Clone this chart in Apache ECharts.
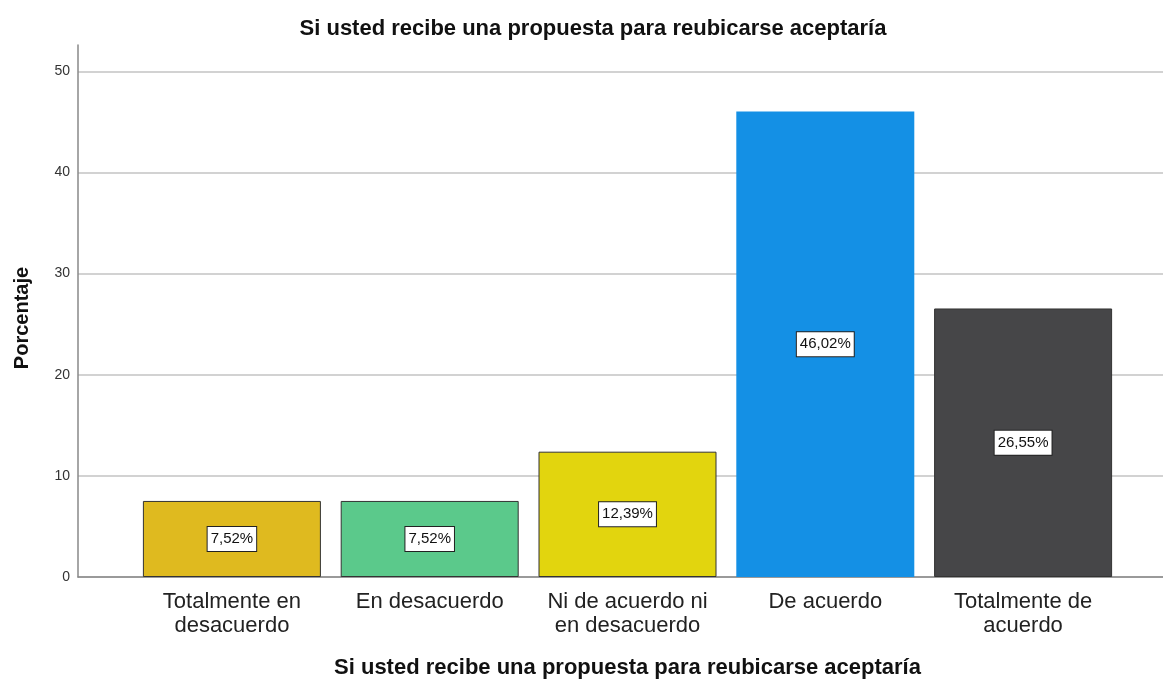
<!DOCTYPE html>
<html>
<head>
<meta charset="utf-8">
<script src="https://cdn.jsdelivr.net/npm/echarts@6/dist/echarts.min.js"></script>
<style>
  html, body { margin: 0; padding: 0; background: #fff; }
  #myChart { width: 1163px; height: 680px; }
</style>
</head>
<body>
<div id="myChart"></div>
<script>
// data
var categories = ['Totalmente en\ndesacuerdo', 'En desacuerdo', 'Ni de acuerdo ni\nen desacuerdo', 'De acuerdo', 'Totalmente de\nacuerdo'];
var values = [7.52, 7.52, 12.39, 46.02, 26.55];
var barColors = ['#DFBA1F', '#5BC98B', '#E2D50E', '#1490E5', '#464648'];
var yTicks = [0, 10, 20, 30, 40, 50];

var titleText = 'Si usted recibe una propuesta para reubicarse aceptaría';
var font = '"Liberation Sans", Arial, sans-serif';

var myChart = echarts.init(document.getElementById('myChart'));

var barData = values.map(function (v, i) {
  var isBlue = i === 3;
  return {
    value: v,
    itemStyle: {
      color: barColors[i],
      borderColor: isBlue ? barColors[i] : '#333',
      borderWidth: isBlue ? 0 : 1
    }
  };
});

// last split line sits at the axis max (no tick there), keep it hidden
var gridColors = yTicks.map(function () { return '#d2d2d2'; }).concat(['rgba(0,0,0,0)']);

var option = {
  animation: false,
  title: {
    text: titleText,
    left: 588,
    textAlign: 'center',
    top: 13,
    textStyle: { fontFamily: font, fontSize: 22, fontWeight: 'bold', color: '#111' }
  },
  grid: [
    { left: 78, right: 0, top: 45, bottom: 103, outerBoundsMode: 'none' },
    { left: 133, right: 41, top: 45, bottom: 103, outerBoundsMode: 'none' }
  ],
  xAxis: [
    {
      gridIndex: 0, type: 'value', min: 0, max: 1,
      axisLine: { show: true, lineStyle: { color: '#888', width: 1.5 } },
      axisTick: { show: false }, axisLabel: { show: false }, splitLine: { show: false }
    },
    {
      gridIndex: 1, type: 'category', data: categories,
      axisLine: { show: false }, axisTick: { show: false },
      axisLabel: {
        interval: 0, margin: 13, fontFamily: font, fontSize: 22, lineHeight: 24, color: '#222'
      },
      name: titleText, nameLocation: 'middle', nameGap: 80,
      nameTextStyle: { fontFamily: font, fontSize: 22, fontWeight: 'bold', color: '#111' }
    }
  ],
  yAxis: [
    {
      gridIndex: 0, type: 'value', min: 0, max: 52.6, interval: 10,
      axisLine: { show: true, lineStyle: { color: '#888', width: 1.5 } },
      axisTick: { show: false },
      axisLabel: {
        fontFamily: font, fontSize: 14, color: '#333', margin: 8,
        formatter: function (v) { return yTicks.indexOf(v) >= 0 ? String(v) : ''; }
      },
      splitLine: { show: true, lineStyle: { color: gridColors, width: 2 } },
      name: 'Porcentaje', nameLocation: 'middle', nameGap: 46, nameRotate: 90,
      nameTextStyle: { fontFamily: font, fontSize: 20, fontWeight: 'bold', color: '#111', padding: [0, 14, 0, 0] }
    },
    {
      gridIndex: 1, type: 'value', min: 0, max: 52.6, interval: 10, show: false
    }
  ],
  series: [
    {
      type: 'bar', xAxisIndex: 1, yAxisIndex: 1, data: barData, barWidth: 178,
      z: 3,
      label: {
        show: true, position: 'inside',
        formatter: function (p) { return p.value.toFixed(2).replace('.', ',') + '%'; },
        fontFamily: font, fontSize: 15, color: '#111',
        backgroundColor: '#fff', borderColor: '#222', borderWidth: 1,
        padding: [5, 3, 4, 3]
      }
    }
  ]
};

myChart.setOption(option);
</script>
</body>
</html>
